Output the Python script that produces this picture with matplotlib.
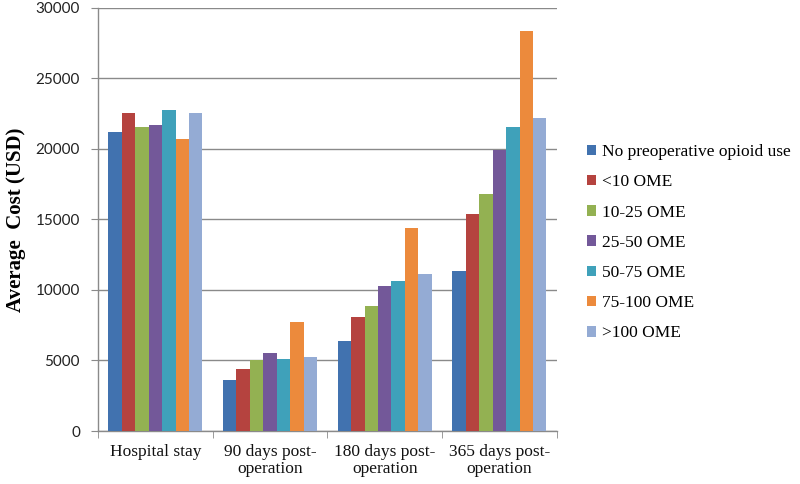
import matplotlib
matplotlib.use("Agg")
import matplotlib.pyplot as plt
import numpy as np

categories = ["Hospital stay", "90 days post-\noperation", "180 days post-\noperation", "365 days post-\noperation"]
series_names = ["No preoperative opioid use", "<10 OME", "10-25 OME", "25-50 OME", "50-75 OME", "75-100 OME", ">100 OME"]
no_opioid = [21200, 3630, 6400, 11370]
lt10 = [22540, 4380, 8100, 15360]
ome10_25 = [21590, 5050, 8890, 16820]
ome25_50 = [21680, 5550, 10310, 19930]
ome50_75 = [22750, 5140, 10620, 21590]
ome75_100 = [20710, 7750, 14430, 28390]
gt100 = [22540, 5240, 11160, 22180]
yticks = [0, 5000, 10000, 15000, 20000, 25000, 30000]

values = [no_opioid, lt10, ome10_25, ome25_50, ome50_75, ome75_100, gt100]
colors = ["#4172AF", "#B5433F", "#93B152", "#735899", "#3FA1BA", "#EC8A3C", "#94ABD4"]

fig = plt.figure(figsize=(8, 4.84), dpi=100)
ax = fig.add_axes([0.1225, 0.1095, 0.5735, 0.874])

n = len(values)
group_w = 0.82
bw = group_w / n
x = np.arange(len(categories))
for i, (vals, c, name) in enumerate(zip(values, colors, series_names)):
    ax.bar(x - group_w / 2 + bw * (i + 0.5), vals, width=bw, color=c, label=name, zorder=3, linewidth=0)

ax.set_xlim(-0.5, len(categories) - 0.5)
ax.set_ylim(0, 30000)
ax.set_yticks(yticks)
ax.set_yticklabels([str(v) for v in yticks], fontfamily="Lato", fontsize=11, color="#222222")
ax.yaxis.grid(True, color="#8a8a8a", linewidth=1.0, zorder=0)
ax.set_axisbelow(True)

ax.set_xticks(x)
ax.set_xticklabels(categories, fontfamily="Liberation Serif", fontsize=12.5, color="#111111", linespacing=1.15)
ax.tick_params(axis="x", which="major", length=0, pad=9)
ax.set_xticks(np.arange(-0.5, len(categories), 1.0), minor=True)
ax.tick_params(axis="x", which="minor", length=5, color="#8a8a8a", direction="out")
ax.tick_params(axis="y", length=5, color="#8a8a8a", direction="out", pad=8)

for s in ["top", "right"]:
    ax.spines[s].set_visible(False)
for s in ["left", "bottom"]:
    ax.spines[s].set_color("#8a8a8a")
    ax.spines[s].set_linewidth(1.0)

ax.set_ylabel("Average  Cost (USD)", fontfamily="Liberation Serif", fontweight="bold", fontsize=15, labelpad=7)

leg = ax.legend(loc="center left", bbox_to_anchor=(1.05, 0.445), frameon=False,
                prop={"family": "Liberation Serif", "size": 12.5},
                handlelength=0.55, handleheight=0.55, handletextpad=0.35, labelspacing=0.82,
                borderaxespad=0.0)

fig.savefig("out.png", dpi=100)
